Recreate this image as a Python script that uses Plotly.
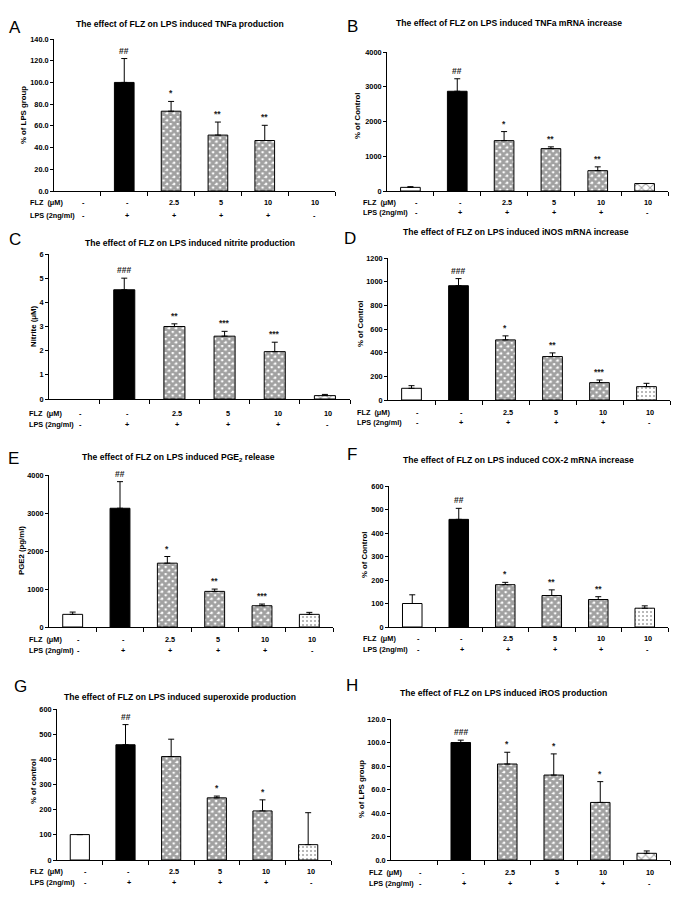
import plotly.graph_objects as go

# the page body adds an 8px margin; the figure fills the rest of the window
OFF = 8
W, H = 685 - OFF, 909 - OFF

# ---------------- data ----------------
flz_labels = ["-", "-", "2.5", "5", "10", "10"]
lps_labels = ["-", "+", "+", "+", "+", "-"]
xcat = [0, 1, 2, 3, 4, 5]

A_vals = [None, 100, 73.5, 51.5, 46.5, None]
A_err = [0, 22, 9, 12, 14, 0]
A_sig = ["", "##", "*", "**", "**", ""]

B_vals = [105, 2870, 1450, 1220, 585, 215]
B_err = [20, 360, 260, 50, 110, 0]
B_sig = ["", "##", "*", "**", "**", ""]

C_vals = [None, 4.52, 3.0, 2.6, 1.96, 0.14]
C_err = [0, 0.48, 0.11, 0.2, 0.39, 0.05]
C_sig = ["", "###", "**", "***", "***", ""]

D_vals = [99, 966, 508, 367, 147, 113]
D_err = [22, 60, 34, 31, 22, 28]
D_sig = ["", "###", "*", "**", "***", ""]

E_vals = [333, 3125, 1680, 937, 560, 333]
E_err = [60, 700, 175, 61, 44, 52]
E_sig = ["", "##", "*", "**", "***", ""]

F_vals = [100, 458, 180, 134, 117, 80]
F_err = [37, 47, 10, 24, 12, 10]
F_sig = ["", "##", "*", "**", "**", ""]

G_vals = [101, 458, 411, 247, 195, 61]
G_err = [0, 80, 69, 7, 44, 127]
G_sig = ["", "##", "", "*", "*", ""]

H_vals = [None, 100, 81.7, 72.3, 49, 5.7]
H_err = [0, 2, 10, 18, 17.7, 2]
H_sig = ["", "###", "*", "*", "*", ""]

titles = {
    "A": "The effect of FLZ on LPS induced TNFa production",
    "B": "The effect of FLZ on LPS induced TNFa mRNA increase",
    "C": "The effect of FLZ on LPS induced nitrite production",
    "D": "The effect of FLZ on LPS induced iNOS mRNA increase",
    "E": "The effect of FLZ on LPS induced PGE<sub>2</sub> release",
    "F": "The effect of FLZ on LPS induced COX-2 mRNA increase",
    "G": "The effect of FLZ on LPS induced superoxide production",
    "H": "The effect of FLZ on LPS induced iROS production",
}
ytitles = {
    "A": "% of LPS group", "B": "% of Control", "C": "Nitrite (μM)",
    "D": "% of Control", "E": "PGE2 (pg/ml)", "F": "% of Control",
    "G": "% of control", "H": "% of LPS group",
}

# ---------------- layout geometry (pixels in the window) ----------------
panels = [
    ("A", A_vals, A_err, A_sig, 54, 335, 39, 191, 140, 20, ".1f", "x"),
    ("B", B_vals, B_err, B_sig, 387, 668, 52, 191, 4000, 1000, "d", "x2"),
    ("C", C_vals, C_err, C_sig, 49, 350, 254, 399, 6, 1, "d", "x2"),
    ("D", D_vals, D_err, D_sig, 388, 670, 258, 400, 1200, 200, "d", "dot"),
    ("E", E_vals, E_err, E_sig, 49, 333, 475, 627, 4000, 1000, "d", "dot"),
    ("F", F_vals, F_err, F_sig, 389, 668, 486, 627, 600, 100, "d", "dot"),
    ("G", G_vals, G_err, G_sig, 57, 331, 709, 860, 600, 100, "d", "dot"),
    ("H", H_vals, H_err, H_sig, 391, 670, 719, 860, 120, 20, ".1f", "x2"),
]
title_pos = {"A": (180, 24), "B": (509, 23), "C": (190, 243), "D": (516, 232),
             "E": (178, 457), "F": (519, 460), "G": (180, 697), "H": (504, 693)}
letter_pos = {"A": (15, 27), "B": (352, 26), "C": (15, 240), "D": (350, 238),
              "E": (13, 458), "F": (352, 455), "G": (20, 686), "H": (352, 685)}
ytitle_pos = {"A": (23, 115), "B": (357, 116), "C": (33, 326), "D": (360, 324),
              "E": (21, 551), "F": (364, 555), "G": (33, 782), "H": (361, 789)}
row_pos = {"A": (28, 202, 215), "B": (361, 202, 213), "C": (27, 413, 424),
           "D": (355, 412, 422), "E": (27, 639, 650), "F": (361, 638, 649),
           "G": (28, 871, 882), "H": (367, 872, 883)}

FONT = "Liberation Sans, Arial, sans-serif"


def px(x):
    return (x - OFF) / W


def py(y):
    return 1 - (y - OFF) / H


def ann(**kw):
    base = dict(showarrow=False, xanchor="center", yanchor="middle")
    base.update(kw)
    return base


def bold(size, color="black"):
    return dict(family=FONT, size=size, color=color, weight="bold")


fig = go.Figure()
annotations = []
layout_axes = {}

for i, (key, vals, err, sig, x0, x1, yt, yz, ymax, dtick, fmt, last) in enumerate(panels):
    n = "" if i == 0 else str(i + 1)
    xa, ya = "x" + n, "y" + n

    colors = ["white", "black", "white", "white", "white", "white"]
    if last == "dot":
        shapes = ["", "", "x", "x", "x", "."]
        sizes = [4, 4, 5, 5, 5, 4]
        solid = [0.5, 0.5, 0.8, 0.8, 0.8, 0.2]
        fg = ["black", "black", "black", "black", "black", "#555"]
    else:
        shapes = ["", "", "x", "x", "x", "x"]
        sizes = [4, 4, 5, 5, 5, 6]
        solid = [0.5, 0.5, 0.8, 0.8, 0.8, 0.3]
        fg = ["black", "black", "black", "black", "black", "#333"]

    fig.add_trace(go.Bar(
        x=xcat, y=vals, xaxis=xa, yaxis=ya, width=0.42,
        marker=dict(color=colors, line=dict(color="black", width=1),
                    pattern=dict(shape=shapes, size=sizes, solidity=solid,
                                 fgcolor=fg, bgcolor="white")),
        error_y=dict(type="data", symmetric=False, array=err,
                     arrayminus=[0] * 6, color="black", thickness=1, width=3),
        showlegend=False, hoverinfo="skip",
    ))

    layout_axes["xaxis" + n] = dict(
        domain=[px(x0), px(x1)], anchor=ya, range=[-0.5, 5.5],
        tickvals=[0.5, 1.5, 2.5, 3.5, 4.5, 5.5], showticklabels=False,
        ticks="outside", ticklen=4, tickcolor="black", showline=True,
        linecolor="black", linewidth=1, showgrid=False, zeroline=False,
        fixedrange=True, automargin=False)
    layout_axes["yaxis" + n] = dict(
        domain=[py(yz), py(yt)], anchor=xa, range=[0, ymax], dtick=dtick,
        tickformat=fmt, ticks="outside", ticklen=3, tickcolor="black",
        showline=True, linecolor="black", linewidth=1, showgrid=False,
        zeroline=False, tickfont=bold(7.3),
        fixedrange=True, automargin=False)

    # significance marks
    for j in range(6):
        if sig[j] and vals[j] is not None:
            annotations.append(ann(
                x=xcat[j], y=vals[j] + err[j], xref=xa, yref=ya, text=sig[j],
                yanchor="bottom", yshift=1, font=bold(8.5, "#222")))

    tx, ty = title_pos[key]
    annotations.append(ann(x=px(tx), y=py(ty), xref="paper", yref="paper",
                           text=titles[key], font=bold(8.6)))
    lx, ly = letter_pos[key]
    annotations.append(ann(x=px(lx), y=py(ly), xref="paper", yref="paper",
                           text=key,
                           font=dict(family=FONT, size=17, color="black")))
    yx, yy = ytitle_pos[key]
    annotations.append(ann(x=px(yx), y=py(yy), xref="paper", yref="paper",
                           text=ytitles[key], textangle=-90, font=bold(7.8)))

    rx, r1, r2 = row_pos[key]
    annotations.append(ann(x=px(rx), y=py(r1), xref="paper", yref="paper",
                           text="FLZ  (μM)", xanchor="left", font=bold(7.3)))
    annotations.append(ann(x=px(rx), y=py(r2), xref="paper", yref="paper",
                           text="LPS (2ng/ml)", xanchor="left", font=bold(7.3)))
    for j in range(6):
        shift = 6 if j == 0 else 3
        annotations.append(ann(x=xcat[j], y=py(r1), xref=xa, yref="paper",
                               text=flz_labels[j], xshift=shift, font=bold(7.3)))
        annotations.append(ann(x=xcat[j], y=py(r2), xref=xa, yref="paper",
                               text=lps_labels[j], xshift=shift, font=bold(7.3)))

fig.update_layout(
    width=W, height=H, margin=dict(l=0, r=0, t=0, b=0, pad=0, autoexpand=False),
    paper_bgcolor="white", plot_bgcolor="white", bargap=0.5, showlegend=False,
    annotations=annotations, **layout_axes,
)

fig.write_html("out.html")
